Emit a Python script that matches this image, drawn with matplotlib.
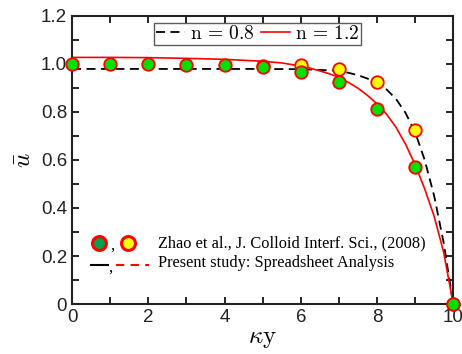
import matplotlib
matplotlib.use("Agg")
import matplotlib.pyplot as plt
from matplotlib.ticker import MultipleLocator

plt.rcParams['mathtext.fontset'] = 'cm'
plt.rcParams['font.family'] = ['Liberation Sans', 'DejaVu Sans']

# Experimental data (Zhao et al., 2008)
x_data = [0, 1, 2, 3, 4, 5, 6, 7, 8, 9, 10]
green_vals = [1.0, 1.0, 1.0, 0.995, 0.995, 0.985, 0.964, 0.922, 0.812, 0.570, 0.0]
x_yellow = [5, 6, 7, 8, 9, 10]
yellow_vals = [0.99, 0.996, 0.978, 0.922, 0.725, 0.0]

# Present study curves
x_n08 = [0, 1, 2, 3, 4, 5, 6, 6.5, 7, 7.25, 7.5, 7.75, 8, 8.25, 8.5, 8.75,
         9, 9.25, 9.5, 9.75, 10]
n08_vals = [0.978, 0.978, 0.978, 0.978, 0.978, 0.978, 0.977, 0.974, 0.970, 0.962,
            0.952, 0.938, 0.918, 0.893, 0.853, 0.795, 0.715, 0.600, 0.450, 0.255, 0.0]
x_n12 = [0, 1, 2, 3, 4, 5, 5.5, 6, 6.25, 6.5, 6.75, 7, 7.25, 7.5, 7.75, 8,
         8.25, 8.5, 8.75, 9, 9.25, 9.5, 9.75, 10]
n12_vals = [1.026, 1.026, 1.025, 1.022, 1.018, 1.010, 1.003, 0.990, 0.981, 0.970,
            0.958, 0.943, 0.922, 0.898, 0.868, 0.833, 0.790, 0.735, 0.665, 0.580,
            0.480, 0.365, 0.215, 0.0]

fig = plt.figure(figsize=(4.62, 3.54), dpi=100)
ax = fig.add_axes([0.156, 0.141, 0.825, 0.815])

l1, = ax.plot(x_n08, n08_vals, '--', color='black', lw=1.3, dashes=(5, 3), label=r'$\mathrm{n}\,=\,0.8$')
l2, = ax.plot(x_n12, n12_vals, '-', color='red', lw=1.2, label=r'$\mathrm{n}\,=\,1.2$')

ax.plot(x_yellow, yellow_vals, 'o', ms=9, mfc='#ffff00', mec='red', mew=1.3, ls='none', clip_on=False, zorder=3)
ax.plot(x_data, green_vals, 'o', ms=9, mfc='#00e000', mec='red', mew=1.3, ls='none', clip_on=False, zorder=4)

ax.set_xlim(0, 10)
ax.set_ylim(0, 1.2)
ax.xaxis.set_minor_locator(MultipleLocator(1))
ax.yaxis.set_minor_locator(MultipleLocator(0.1))
ax.set_yticks([0, 0.2, 0.4, 0.6, 0.8, 1.0, 1.2])
ax.set_yticklabels(['0', '0.2', '0.4', '0.6', '0.8', '1.0', '1.2'])
ax.set_xticks([0, 2, 4, 6, 8, 10])
ax.set_xticklabels(['0', '2', '4', '6', '8', '10'])
ax.tick_params(which='both', direction='in', top=True, right=True, labelsize=13.5,
               width=1.2, length=5, labelcolor='#222222')
for s in ax.spines.values():
    s.set_linewidth(1.5)
    s.set_color('#222222')

ax.set_xlabel(r'$\kappa\mathrm{y}$', fontsize=18, labelpad=0)
ax.set_ylabel(r'$\bar{u}$', fontsize=18, labelpad=4)

leg = ax.legend(handles=[l1, l2], loc='upper center', bbox_to_anchor=(0.487, 0.975), ncol=2,
                fontsize=14, frameon=True, fancybox=False, edgecolor='#333333',
                handlelength=1.5, handletextpad=0.25, columnspacing=0.35, borderpad=0.1,
                borderaxespad=0.0)
leg.get_frame().set_linewidth(1.0)

# Bottom annotation
ax.plot([0.70], [0.253], 'o', ms=10, mfc='#00a050', mec='red', mew=2.2)
ax.plot([1.46], [0.253], 'o', ms=10, mfc='#ffff00', mec='red', mew=2.2)
ax.text(1.0, 0.242, ',', fontsize=12, family='Liberation Serif', va='center')
ax.text(2.26, 0.253, 'Zhao et al., J. Colloid Interf. Sci., (2008)', fontsize=11.8,
        family='Liberation Serif', va='center')
ax.plot([0.5, 0.95], [0.162, 0.162], '-', color='black', lw=1.5)
ax.text(0.95, 0.152, ',', fontsize=12, family='Liberation Serif', va='center')
ax.plot([1.15, 2.02], [0.162, 0.162], '--', color='red', lw=1.5, dashes=(4, 3))
ax.text(2.26, 0.172, 'Present study: Spreadsheet Analysis', fontsize=11.8,
        family='Liberation Serif', va='center')

fig.savefig('out.png', dpi=100)
